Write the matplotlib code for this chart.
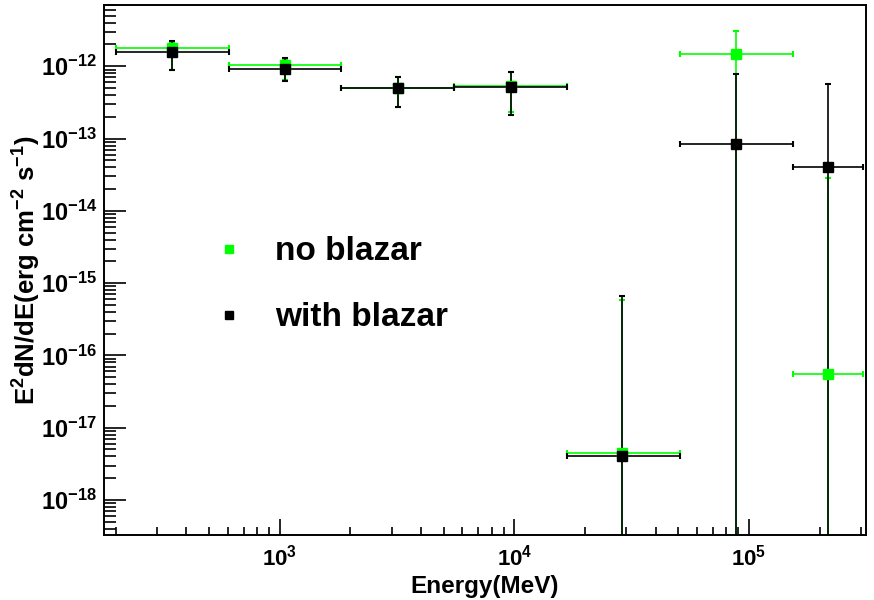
import numpy as np
import matplotlib
matplotlib.use("Agg")
import matplotlib.pyplot as plt
from matplotlib.lines import Line2D
from matplotlib.ticker import LogLocator, FixedLocator, FuncFormatter, NullFormatter

plt.rcParams['font.family'] = ['Liberation Sans', 'DejaVu Sans']
plt.rcParams['font.weight'] = 'bold'
plt.rcParams['mathtext.fontset'] = 'custom'
plt.rcParams['mathtext.rm'] = 'Liberation Sans:bold'
plt.rcParams['mathtext.it'] = 'Liberation Sans:bold'
plt.rcParams['mathtext.bf'] = 'Liberation Sans:bold'

# energy bins (MeV)
e_center = [346, 1050, 3180, 9630, 28600, 88000, 217000]
e_low = [200, 605, 1830, 5550, 16800, 51000, 154000]
e_high = [605, 1830, 5550, 16800, 51000, 154000, 305000]

# no blazar (green)
green_flux = [1.8e-12, 1.03e-12, 5.0e-13, 5.4e-13, 4.4e-18, 1.5e-12, 5.5e-17]
green_up = [2.1e-12, 1.25e-12, 7.2e-13, 8.4e-13, 5.8e-16, 3.05e-12, 2.85e-14]
green_down = [9.0e-13, 6.4e-13, 2.77e-13, 2.36e-13, 0, 0, 0]

# with blazar (black)
black_flux = [1.58e-12, 9.3e-13, 5.0e-13, 5.1e-13, 4.1e-18, 8.5e-14, 4.1e-14]
black_up = [2.22e-12, 1.28e-12, 7.2e-13, 8.4e-13, 6.6e-16, 7.7e-13, 5.75e-13]
black_down = [8.8e-13, 6.2e-13, 2.77e-13, 2.1e-13, 0, 0, 0]

x_decades = [3, 4, 5]
y_decades = [-18, -17, -16, -15, -14, -13, -12]

FLOOR = 1e-30  # lower limit 0 -> bar runs off the bottom


def draw(ax, flux, up, down, color):
    x = np.array(e_center, float)
    y = np.array(flux, float)
    xerr = [x - np.array(e_low), np.array(e_high) - x]
    lo = np.maximum(np.array(down, float), FLOOR)
    yerr = [y - lo, np.array(up, float) - y]
    ax.errorbar(x, y, xerr=xerr, yerr=yerr, fmt='s', color=color, ms=7,
                mec=color, mfc=color, elinewidth=1.2, capsize=2, capthick=1.5)


fig = plt.figure(figsize=(8.74, 6.0), dpi=100)
ax = fig.add_axes([104 / 874, 1 - 535 / 600, 762 / 874, 530 / 600])

draw(ax, green_flux, green_up, green_down, '#00ff00')
draw(ax, black_flux, black_up, black_down, 'black')

ax.set_xscale('log')
ax.set_yscale('log')
ax.set_xlim(178, 3.15e5)
ax.set_ylim(3.28e-19, 7.03e-12)

ax.xaxis.set_major_locator(FixedLocator([10.0 ** d for d in x_decades]))
ax.yaxis.set_major_locator(FixedLocator([10.0 ** d for d in y_decades]))
ax.xaxis.set_minor_locator(LogLocator(base=10, subs=np.arange(2, 10), numticks=20))
ax.yaxis.set_minor_locator(LogLocator(base=10, subs=np.arange(2, 10), numticks=20))

fmt = FuncFormatter(lambda v, p: r'$10^{%d}$' % int(round(np.log10(v))))
ax.xaxis.set_major_formatter(fmt)
ax.yaxis.set_major_formatter(fmt)
ax.xaxis.set_minor_formatter(NullFormatter())
ax.yaxis.set_minor_formatter(NullFormatter())

ax.tick_params(axis='both', which='both', direction='in', top=False, right=False,
               width=1.2)
ax.tick_params(axis='y', which='major', length=16, pad=5, labelsize=17)
ax.tick_params(axis='y', which='minor', length=8.5)
ax.tick_params(axis='x', which='major', length=11.5, pad=7, labelsize=16)
ax.tick_params(axis='x', which='minor', length=5.8)
for s in ax.spines.values():
    s.set_linewidth(1.4)

ax.set_xlabel('Energy(MeV)', fontsize=17.5, fontweight='bold', labelpad=3)
ax.set_ylabel(r'E$^{2}$dN/dE(erg cm$^{-2}$ s$^{-1}$)', fontsize=18.5,
              fontweight='bold', labelpad=-2)

handles = [Line2D([], [], ls='none', marker='s', ms=5.5, color='#00ff00'),
           Line2D([], [], ls='none', marker='s', ms=5.5, color='black')]
ax.legend(handles, ['no blazar', 'with blazar'], loc='center left',
          bbox_to_anchor=(0.1027, 0.472), frameon=False, handlelength=1.0,
          handletextpad=0.88, labelspacing=1.05,
          prop={'size': 24, 'weight': 'bold', 'family': 'Liberation Sans'})

fig.savefig('out.png', dpi=100)
